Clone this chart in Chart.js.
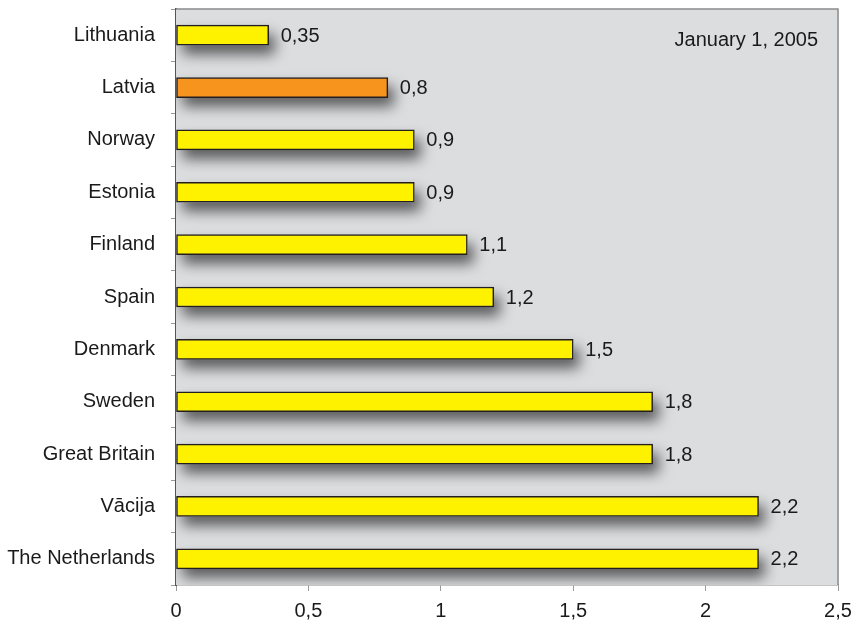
<!DOCTYPE html>
<html>
<head>
<meta charset="utf-8">
<script src="https://cdn.jsdelivr.net/npm/chart.js@4/dist/chart.umd.min.js"></script>
<style>
  body { margin: 0; background: #fff; }
</style>
</head>
<body>
<canvas id="myChart" width="861" height="624"></canvas>
<script>
const countries = ['Lithuania', 'Latvia', 'Norway', 'Estonia', 'Finland', 'Spain',
    'Denmark', 'Sweden', 'Great Britain', 'Vācija', 'The Netherlands'];
const values = [0.35, 0.8, 0.9, 0.9, 1.1, 1.2, 1.5, 1.8, 1.8, 2.2, 2.2];
const barColors = ['#FFF200', '#F7941D', '#FFF200', '#FFF200', '#FFF200', '#FFF200',
    '#FFF200', '#FFF200', '#FFF200', '#FFF200', '#FFF200'];
const xTicks = [0, 0.5, 1, 1.5, 2, 2.5];
const dateNote = 'January 1, 2005';

const font = "'Liberation Sans', Arial, sans-serif";

// comma decimal like the original
function fmt(v) {
    return String(v).replace('.', ',');
}

const plotBox = {
    id: 'plotBox',
    beforeDatasetsDraw(chart) {
        const a = chart.chartArea;
        const ctx = chart.ctx;
        ctx.save();
        ctx.fillStyle = '#DCDDDF';
        ctx.fillRect(a.left, a.top, a.right - a.left, a.bottom - a.top);
        ctx.strokeStyle = '#8A8A8A';
        ctx.lineWidth = 1.5;
        ctx.beginPath();
        ctx.moveTo(a.left, a.top);
        ctx.lineTo(a.right, a.top);
        ctx.lineTo(a.right, a.bottom);
        ctx.stroke();

        // soft shadow under each bar (bar element clips its own shadow)
        const meta = chart.getDatasetMeta(0);
        ctx.beginPath();
        ctx.rect(a.left, a.top, a.right - a.left, a.bottom - a.top);
        ctx.clip();
        ctx.shadowColor = 'rgba(0,0,0,0.6)';
        ctx.shadowBlur = 14;
        ctx.shadowOffsetX = 6;
        ctx.shadowOffsetY = 9;
        ctx.fillStyle = '#DCDDDF';
        meta.data.forEach((bar) => {
            ctx.fillRect(bar.base, bar.y - bar.height / 2, bar.x - bar.base, bar.height);
        });
        ctx.restore();
    },
    afterDatasetsDraw(chart) {
        const ctx = chart.ctx;
        const a = chart.chartArea;
        const meta = chart.getDatasetMeta(0);
        ctx.save();
        ctx.font = '20px ' + font;
        ctx.fillStyle = '#1a1a1a';
        ctx.textBaseline = 'middle';
        ctx.textAlign = 'left';
        meta.data.forEach((bar, i) => {
            ctx.fillText(fmt(values[i]), bar.x + 12, bar.y + 1);
        });
        ctx.textAlign = 'right';
        ctx.fillText(dateNote, a.right - 20, a.top + 31);
        ctx.restore();
    }
};

const ctx = document.getElementById('myChart');
new Chart(ctx, {
    type: 'bar',
    data: {
        labels: countries,
        datasets: [{
            data: values,
            backgroundColor: barColors,
            borderColor: '#231F20',
            borderWidth: 1.5,
            borderSkipped: false,
            barThickness: 20
        }]
    },
    options: {
        indexAxis: 'y',
        responsive: false,
        animation: false,
        layout: { padding: { top: 9, right: 23, left: 0, bottom: 0 } },
        plugins: {
            legend: { display: false },
            tooltip: { enabled: false }
        },
        scales: {
            x: {
                min: 0,
                max: 2.5,
                afterBuildTicks: (s) => { s.ticks = xTicks.map(v => ({ value: v })); },
                afterFit: (s) => {
                    s.height = 39;
                    s.paddingLeft = 0;
                    s.paddingRight = 0;
                },
                grid: { drawOnChartArea: false, tickLength: 6, color: '#9A9A9A' },
                border: { color: '#8A8A8A', width: 1.5 },
                ticks: {
                    callback: (v) => fmt(v),
                    font: { family: font, size: 20 },
                    color: '#1a1a1a',
                    padding: 8,
                    maxRotation: 0
                }
            },
            y: {
                afterFit: (s) => {
                    s.width = 176;
                    s.paddingTop = 0;
                    s.paddingBottom = 0;
                },
                grid: { drawOnChartArea: false, tickLength: 5, color: '#9A9A9A', offset: true },
                border: { color: '#555555', width: 2 },
                ticks: {
                    font: { family: font, size: 20 },
                    color: '#1a1a1a',
                    padding: 16
                }
            }
        }
    },
    plugins: [plotBox]
});
</script>
</body>
</html>
